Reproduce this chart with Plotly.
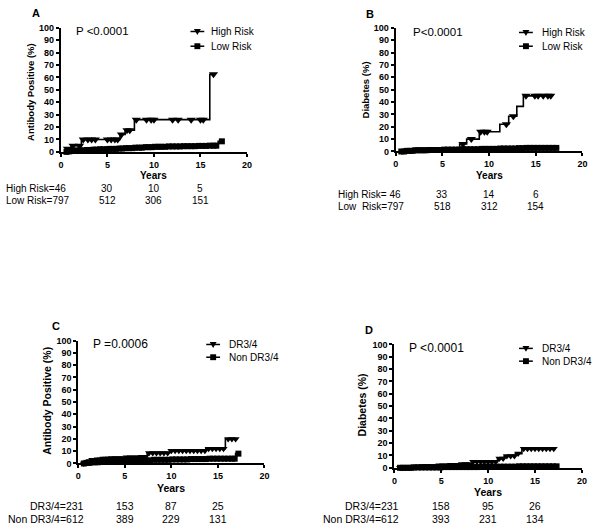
import plotly.graph_objects as go

FONT = "Liberation Sans, Arial, sans-serif"

# ---- panel A: antibody positive, high vs low risk ----
hi_a_t = [0.4, 0.6, 1.1, 2.2, 6.35, 6.9, 7.9, 16.0]
hi_a_y = [0, 2.5, 5, 10, 14, 17.5, 26, 62.5]
hi_a_end = 16.4
hi_a_cens = [0.7, 1.3, 2.0, 2.4, 2.9, 3.3, 3.7, 5.0, 5.4, 5.8, 6.1, 6.5, 7.1, 7.4,
             8.1, 9.2, 9.7, 10.0, 12.0, 12.6, 14.0, 15.0, 15.3, 16.4]
lo_a_t = [0.4, 0.8, 1.2, 1.8, 2.5, 3.3, 4.2, 5.0, 6.0, 7.0, 8.0, 9.0, 10.0, 11.5, 13.0, 14.5, 16.0, 16.9]
lo_a_y = [0, 0.4, 0.8, 1.2, 1.5, 1.8, 2.1, 2.4, 2.7, 3.0, 3.4, 3.8, 4.1, 4.4, 4.6, 4.8, 5.0, 8.5]
lo_a_end = 17.4
lo_a_cens = [0.6, 0.9, 1.2, 1.5, 1.8, 2.1, 2.4, 2.8, 3.1, 3.5, 3.8, 4.2, 4.5, 4.9, 5.2, 5.6,
             5.9, 6.3, 6.6, 7.0, 7.3, 7.7, 8.0, 8.4, 8.7, 9.1, 9.4, 9.8, 10.1, 10.5, 10.8,
             11.2, 11.6, 12.0, 12.4, 12.8, 13.2, 13.6, 14.0, 14.4, 14.8, 15.2, 15.6, 16.0,
             16.4, 16.7, 17.3]

# ---- panel B: diabetes, high vs low risk ----
hi_b_t = [0.5, 6.85, 7.6, 8.95, 11.15, 12.1, 12.97, 13.67]
hi_b_y = [0, 6, 10, 16, 22, 28.5, 36.5, 45]
hi_b_end = 16.6
hi_b_cens = [7.2, 8.1, 9.1, 9.5, 9.8, 11.85, 12.6, 13.95, 14.9, 15.25, 15.8, 16.3, 16.6]
lo_b_t = [0.4, 1.0, 2.0, 3.5, 5.0, 7.0, 9.0, 11.0, 13.0, 14.0]
lo_b_y = [0, 0.5, 1.0, 1.2, 1.5, 1.8, 2.1, 2.4, 2.7, 2.9]
lo_b_end = 17.5
lo_b_cens = [0.6, 0.9, 1.2, 1.5, 1.8, 2.1, 2.4, 2.7, 3.0, 3.3, 3.6, 4.0, 4.4, 4.8, 5.2, 5.6,
             6.0, 6.4, 6.8, 7.2, 7.6, 8.0, 8.4, 8.8, 9.2, 9.6, 10.0, 10.4, 10.8, 11.2, 11.6,
             12.0, 12.4, 12.8, 13.2, 13.6, 14.0, 14.4, 14.8, 15.2, 15.6, 16.0, 16.4, 16.8, 17.2]

# ---- panel C: antibody positive, DR3/4 vs non DR3/4 ----
dr_c_t = [0.4, 0.7, 1.0, 1.5, 2.0, 2.6, 3.5, 5.0, 6.5, 7.4, 9.8, 13.7, 15.8]
dr_c_y = [0, 1, 2, 3, 3.5, 4, 4.5, 5, 5.5, 8.5, 10.3, 12, 20]
dr_c_end = 17.0
dr_c_cens = [0.6, 0.9, 1.2, 1.5, 1.8, 2.1, 2.4, 2.7, 3.0, 3.3, 3.6, 4.0, 4.4, 4.8, 5.2, 5.6,
             6.0, 6.4, 6.8, 7.2, 7.6, 8.0, 8.4, 8.8, 9.2, 9.6, 10.0, 10.4, 10.8, 11.2, 11.6,
             12.0, 12.4, 12.8, 13.2, 13.6, 14.0, 14.4, 14.8, 15.2, 15.6, 16.1, 16.5, 16.9]
non_c_t = [0.4, 0.8, 1.5, 2.5, 4.0, 6.0, 8.0, 10.0, 12.0, 14.0, 16.9]
non_c_y = [0, 0.5, 1.0, 1.5, 2.0, 2.5, 3.0, 3.3, 3.6, 3.9, 8.0]
non_c_end = 17.3
non_c_cens = [0.6, 0.9, 1.2, 1.5, 1.8, 2.1, 2.5, 2.9, 3.3, 3.7, 4.1, 4.5, 4.9, 5.3, 5.7,
              6.1, 6.5, 6.9, 7.3, 7.7, 8.1, 8.5, 8.9, 9.3, 9.7, 10.1, 10.5, 10.9, 11.3,
              11.7, 12.1, 12.5, 12.9, 13.3, 13.7, 14.1, 14.5, 14.9, 15.3, 15.7, 16.1, 16.5,
              16.8, 17.2]

# ---- panel D: diabetes, DR3/4 vs non DR3/4 ----
dr_d_t = [0.4, 1.0, 2.0, 3.0, 4.5, 6.0, 7.0, 8.3, 11.0, 11.7, 12.9, 13.6]
dr_d_y = [0, 0.5, 1.0, 1.5, 2.0, 2.5, 3.0, 5.0, 7.5, 9.5, 11.5, 15.5]
dr_d_end = 17.2
dr_d_cens = [0.6, 0.9, 1.2, 1.5, 1.8, 2.1, 2.4, 2.7, 3.0, 3.3, 3.6, 4.0, 4.4, 4.8, 5.2, 5.6,
             6.0, 6.4, 6.8, 7.2, 7.6, 8.0, 8.4, 8.8, 9.2, 9.6, 10.0, 10.4, 10.8, 11.2, 11.6,
             12.0, 12.4, 12.8, 13.2, 13.8, 14.2, 14.6, 15.0, 15.4, 15.8, 16.2, 16.6, 17.0]
non_d_t = [0.4, 2.0, 5.0, 9.0, 13.0]
non_d_y = [0, 0.3, 0.6, 0.9, 1.2]
non_d_end = 17.5
non_d_cens = [0.6, 0.9, 1.2, 1.5, 1.8, 2.1, 2.5, 2.9, 3.3, 3.7, 4.1, 4.5, 4.9, 5.3, 5.7,
              6.1, 6.5, 6.9, 7.3, 7.7, 8.1, 8.5, 8.9, 9.3, 9.7, 10.1, 10.5, 10.9, 11.3,
              11.7, 12.1, 12.5, 12.9, 13.3, 13.7, 14.1, 14.5, 14.9, 15.3, 15.7, 16.1, 16.5,
              16.9, 17.3]

# numbers at risk (at years 5, 10, 15)
risk_years = [5, 10, 15]
risk_a_hi = [30, 10, 5]
risk_a_lo = [512, 306, 151]
risk_b_hi = [33, 14, 6]
risk_b_lo = [518, 312, 154]
risk_c_dr = [153, 87, 25]
risk_c_non = [389, 229, 131]
risk_d_dr = [158, 95, 26]
risk_d_non = [393, 231, 134]

W, H = 600, 530


def px(x):
    return x / W


def py(y):
    return 1 - y / H


def km_at(ts, ys, t):
    v = ys[0]
    for tt, yy in zip(ts, ys):
        if tt <= t:
            v = yy
    return v


fig = go.Figure()


def add_curve(n, ts, ys, end, cens, symbol, size):
    xa, ya = ("x", "y") if n == 1 else ("x%d" % n, "y%d" % n)
    fig.add_trace(go.Scatter(
        x=ts + [end], y=ys + [ys[-1]], mode="lines", line=dict(color="black", width=1.6, shape="hv"),
        xaxis=xa, yaxis=ya, showlegend=False, hoverinfo="skip"))
    fig.add_trace(go.Scatter(
        x=cens, y=[km_at(ts, ys, c) for c in cens], mode="markers",
        marker=dict(symbol=symbol, size=size, color="black", line=dict(width=0)),
        xaxis=xa, yaxis=ya, showlegend=False, cliponaxis=False, hoverinfo="skip"))


add_curve(1, lo_a_t, lo_a_y, lo_a_end, lo_a_cens, "square", 6)
add_curve(1, hi_a_t, hi_a_y, hi_a_end, hi_a_cens, "triangle-down", 8)
add_curve(2, lo_b_t, lo_b_y, lo_b_end, lo_b_cens, "square", 6)
add_curve(2, hi_b_t, hi_b_y, hi_b_end, hi_b_cens, "triangle-down", 8)
add_curve(3, non_c_t, non_c_y, non_c_end, non_c_cens, "square", 6)
add_curve(3, dr_c_t, dr_c_y, dr_c_end, dr_c_cens, "triangle-down", 7)
add_curve(4, non_d_t, non_d_y, non_d_end, non_d_cens, "square", 6)
add_curve(4, dr_d_t, dr_d_y, dr_d_end, dr_d_cens, "triangle-down", 7)

# plot areas in pixels: (left, right, top, bottom)
boxes = {
    1: (58.7, 247.3, 23.3, 149.7),
    2: (398.0, 587.3, 23.3, 149.3),
    3: (76.3, 265.0, 342.0, 467.3),
    4: (396.7, 586.7, 346.0, 471.7),
}

axis_common = dict(showline=True, linewidth=2, linecolor="black", ticks="outside",
                   ticklen=3, tickwidth=2, tickcolor="black", showgrid=False, zeroline=False,
                   tickfont=dict(family=FONT, size=9, color="black", weight="bold"))
layout = {}
for n, (l, r, t, b) in boxes.items():
    sx = "" if n == 1 else str(n)
    layout["xaxis" + sx] = dict(axis_common, domain=[px(l), px(r)], range=[0, 20], dtick=5,
                                anchor="y" + sx)
    layout["yaxis" + sx] = dict(axis_common, domain=[py(b), py(t)], range=[0, 100], dtick=10,
                                anchor="x" + sx)
fig.update_layout(**layout)

ann = []


def text(x, y, s, size=10, bold=False, xanchor="left", rot=0, xref="paper"):
    ann.append(dict(x=x, y=y, xref=xref, yref="paper", text=s, showarrow=False,
                    xanchor=xanchor, yanchor="middle", textangle=rot,
                    font=dict(family=FONT, size=size, color="black",
                              weight="bold" if bold else "normal")))


# panel letters
text(px(33), py(8), "A", 11, True, "center")
text(px(372), py(9), "B", 11, True, "center")
text(px(53.5), py(327), "C", 11, True, "center")
text(px(370.5), py(331), "D", 11, True, "center")

# p values
text(px(72), py(27), "P <0.0001", 11.5)
text(px(414), py(27.5), "P<0.0001", 11.5)
text(px(89), py(345.7), "P =0.0006", 12)
text(px(409), py(350), "P <0.0001", 12)

# y titles
text(px(28), py(89), "Antibody Positive (%)", 9.5, True, "center", -90)
text(px(367), py(87), "Diabetes (%)", 9.5, True, "center", -90)
text(px(45), py(403), "Antibody Positive (%)", 10.5, True, "center", -90)
text(px(364), py(408), "Diabetes (%)", 10.5, True, "center", -90)

# x titles
text(px(153), py(174), "Years", 10, True, "center")
text(px(493), py(174), "Years", 10, True, "center")
text(px(170), py(492), "Years", 10.5, True, "center")
text(px(491.5), py(496), "Years", 10.5, True, "center")

# numbers at risk
text(px(1), py(187), "High Risk=46", 10)
text(px(1), py(199), "Low Risk=797", 10)
text(px(338), py(193), "High Risk= 46", 10)
text(px(338), py(205), "Low  Risk=797", 10)
text(px(84), py(511), "DR3/4=231", 10.5, xanchor="right")
text(px(84), py(524), "Non DR3/4=612", 10.5, xanchor="right")
text(px(403), py(511), "DR3/4=231", 10.5, xanchor="right")
text(px(403), py(524), "Non DR3/4=612", 10.5, xanchor="right")
rows = [("x", py(187), risk_a_hi), ("x", py(199), risk_a_lo),
        ("x2", py(193), risk_b_hi), ("x2", py(205), risk_b_lo),
        ("x3", py(511), risk_c_dr), ("x3", py(524), risk_c_non),
        ("x4", py(511), risk_d_dr), ("x4", py(524), risk_d_non)]
for xr, yy, vals in rows:
    for yr, v in zip(risk_years, vals):
        text(yr, yy, str(v), 10.5 if xr in ("x3", "x4") else 10, xanchor="center", xref=xr)

# hand-drawn legends (short line with symbol, as in the original)
shapes = []


def legend_item(cx, cy, label, symbol, tx, size=10):
    shapes.append(dict(type="line", xref="paper", yref="paper", x0=px(cx - 7), x1=px(cx + 7),
                       y0=py(cy), y1=py(cy), line=dict(color="black", width=1.5)))
    if symbol == "tri":
        path = "M %f,%f L %f,%f L %f,%f Z" % (px(cx - 3.5), py(cy - 2.5), px(cx + 3.5), py(cy - 2.5),
                                              px(cx), py(cy + 3.5))
        shapes.append(dict(type="path", xref="paper", yref="paper", path=path,
                           fillcolor="black", line=dict(width=0)))
    else:
        shapes.append(dict(type="rect", xref="paper", yref="paper", x0=px(cx - 3), x1=px(cx + 3),
                           y0=py(cy - 3), y1=py(cy + 3), fillcolor="black", line=dict(width=0)))
    text(px(tx), py(cy), label, size)


legend_item(197, 27, "High Risk", "tri", 209)
legend_item(197, 42, "Low Risk", "sq", 209)
legend_item(530, 28, "High Risk", "tri", 544)
legend_item(530, 42, "Low Risk", "sq", 544)
legend_item(213, 346, "DR3/4", "tri", 227)
legend_item(213, 359, "Non DR3/4", "sq", 227)
legend_item(530, 350, "DR3/4", "tri", 544)
legend_item(530, 363, "Non DR3/4", "sq", 544)

fig.update_layout(width=W, height=H, margin=dict(l=0, r=0, t=0, b=0),
                  paper_bgcolor="white", plot_bgcolor="white",
                  annotations=ann, shapes=shapes, showlegend=False)

# drop the default 8px body margin so the 600x530 figure fills the window
fig.write_html("out.html", config={"displayModeBar": False},
               post_script="document.body.style.margin='0';")
